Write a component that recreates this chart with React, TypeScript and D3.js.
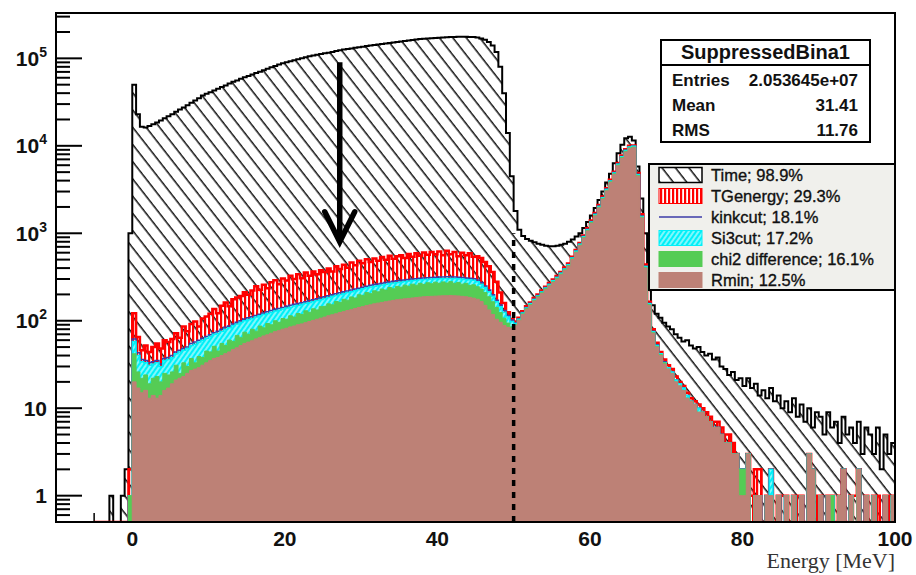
import React, { useEffect, useRef } from "react";
import * as d3 from "d3";

// Histogram binning (MeV): bins of 0.5 MeV starting at -5
const binStart = -5;
const binWidth = 0.5;

// Time; 98.9%
const timeCounts = [
  0, 0, 0, 0, 1, 0, 0, 1, 2, 1000,
  50000, 23000, 16500, 16200, 16800, 17600, 18500, 19500, 20600, 21800,
  23000, 24500, 26000, 27500, 29000, 31000, 33000, 35000, 37500, 39500,
  41000, 43000, 45000, 47000, 49000, 51500, 54000, 56000, 58500, 61000,
  63000, 65500, 68000, 70500, 73000, 76000, 79000, 82000, 85000, 88000,
  90000, 92500, 95000, 97500, 100000, 103000, 106000, 108000, 110000, 112000,
  114000, 116000, 118500, 121000, 123500, 126000, 128000, 130000, 132000, 134000,
  136000, 138000, 140000, 142000, 144000, 146000, 148000, 150000, 152000, 154000,
  156000, 158000, 160000, 162000, 164000, 166000, 168000, 169000, 170000, 171000,
  172000, 173000, 174000, 175000, 176000, 177000, 177000, 177000, 176000, 175000,
  173000, 169000, 163000, 154000, 140000, 118000, 80000, 40000, 14000, 4500,
  1800, 1100, 930, 860, 820, 790, 760, 740, 720, 710,
  710, 720, 740, 760, 800, 850, 920, 1000, 1150, 1350,
  1600, 1950, 2400, 3000, 3800, 4800, 6300, 8200, 10300, 12200,
  12700, 11500, 5800, 2500, 1000, 350, 150, 120, 108, 95,
  86, 80, 70, 64, 58, 60, 52, 48, 50, 44,
  40, 42, 36, 38, 30, 28, 24, 26, 21, 22,
  18, 22, 17, 19, 14, 16, 13, 17, 12, 14,
  10, 12, 9, 13, 8, 11, 7, 10, 6, 9,
  8, 5, 9, 6, 7, 4, 8, 5, 6, 4,
  7, 3, 6, 5, 3, 6, 2, 5, 3, 4,
];

// TGenergy; 29.3%
const tgEnergyCounts = [
  0, 0, 0, 0, 0, 0, 0, 0, 0, 2,
  122, 65, 46, 52, 44, 50, 55, 48, 60, 57,
  62, 72, 64, 86, 76, 92, 98, 86, 106, 112,
  120, 136, 122, 148, 162, 146, 176, 184, 192, 212,
  198, 222, 248, 226, 258, 236, 275, 290, 262, 305,
  288, 326, 300, 340, 306, 356, 326, 366, 340, 378,
  360, 396, 366, 420, 390, 436, 404, 462, 432, 486,
  454, 506, 468, 516, 484, 536, 498, 552, 512, 548,
  560, 522, 578, 540, 592, 552, 602, 568, 610, 574,
  620, 560, 630, 575, 610, 545, 600, 560, 590, 540,
  545, 520, 470, 420, 360, 280, 210, 160, 125, 105,
  98, 108, 128, 146, 162, 182, 200, 222, 245, 270,
  296, 324, 360, 405, 452, 538, 645, 775, 945, 1140,
  1400, 1700, 2100, 2640, 3280, 4090, 5060, 6350, 7750, 9150,
  10000, 10100, 4900, 1650, 440, 165, 80, 56, 44, 36,
  31, 28, 23, 20, 18, 15, 13, 12, 11, 10,
  9, 8, 7, 7, 6, 5, 5, 4, 3, 2,
  2, 3, 1, 2, 2, 0, 1, 2, 0, 1,
  1, 1, 0, 1, 1, 1, 0, 3, 2, 1,
  1, 0, 1, 1, 0, 1, 2, 0, 1, 1,
  2, 0, 1, 0, 1, 1, 0, 1, 1, 1,
];

// kinkcut; 18.1%
const kinkcutCounts = [
  0, 0, 0, 0, 0, 0, 0, 0, 0, 1,
  62, 43, 36, 35, 33, 34, 35, 32, 37, 38,
  40, 44, 46, 48, 50, 55, 57, 60, 63, 66,
  69, 73, 76, 80, 84, 87, 92, 96, 100, 105,
  108, 111, 115, 119, 123, 127, 131, 135, 138, 142,
  146, 150, 154, 157, 161, 165, 170, 174, 178, 183,
  188, 193, 198, 204, 209, 214, 219, 225, 230, 236,
  242, 248, 254, 259, 263, 268, 273, 277, 282, 286,
  290, 293, 297, 300, 303, 306, 308, 311, 313, 315,
  316, 317, 318, 318, 317, 315, 312, 309, 306, 302,
  292, 273, 250, 224, 198, 172, 151, 131, 115, 102,
  94, 105, 124, 142, 158, 176, 194, 215, 240, 263,
  289, 315, 352, 394, 441, 525, 630, 756, 924, 1110,
  1365, 1660, 2050, 2570, 3200, 3990, 4940, 6200, 7560, 8930,
  9770, 9980, 4730, 1580, 420, 158, 76, 53, 42, 34,
  29, 26, 21, 19, 17, 14, 12, 11, 10, 9,
  8, 7, 6, 6, 5, 4, 4, 3, 3, 2,
  2, 3, 0, 1, 1, 0, 1, 2, 0, 1,
  0, 1, 0, 1, 0, 1, 0, 3, 2, 0,
  1, 0, 1, 1, 0, 1, 2, 0, 1, 0,
  2, 0, 1, 0, 1, 0, 0, 1, 0, 1,
];

// Si3cut; 17.2%
const si3cutCounts = [
  0, 0, 0, 0, 0, 0, 0, 0, 0, 1,
  58, 40, 34, 33, 31, 32, 33, 30, 35, 36,
  38, 42, 44, 46, 48, 52, 54, 57, 60, 63,
  66, 70, 72, 76, 80, 83, 88, 92, 96, 100,
  103, 106, 110, 114, 118, 121, 125, 129, 132, 136,
  140, 143, 147, 150, 154, 158, 162, 166, 170, 175,
  180, 185, 190, 195, 200, 205, 210, 215, 220, 226,
  232, 238, 243, 248, 252, 257, 262, 266, 270, 274,
  278, 281, 285, 288, 291, 294, 296, 298, 300, 302,
  303, 304, 305, 305, 304, 302, 300, 297, 294, 290,
  280, 262, 240, 215, 190, 165, 145, 125, 110, 98,
  93, 104, 123, 140, 156, 175, 192, 213, 237, 260,
  286, 312, 348, 390, 437, 520, 624, 749, 915, 1100,
  1350, 1640, 2030, 2550, 3170, 3950, 4890, 6140, 7490, 8840,
  9670, 9880, 4680, 1560, 416, 156, 75, 52, 42, 33,
  29, 26, 21, 19, 17, 14, 12, 11, 10, 9,
  8, 7, 6, 6, 5, 4, 4, 3, 3, 2,
  2, 3, 0, 1, 1, 0, 1, 2, 0, 1,
  0, 1, 0, 1, 0, 1, 0, 3, 2, 0,
  1, 0, 1, 1, 0, 1, 2, 0, 1, 0,
  2, 0, 1, 0, 1, 0, 0, 1, 0, 1,
];

// chi2 difference; 16.1%
const chi2Counts = [
  0, 0, 0, 0, 0, 0, 0, 0, 0, 1,
  42, 26, 22, 24, 19, 22, 23, 20, 25, 24,
  26, 31, 25, 33, 30, 37, 33, 39, 38, 45,
  44, 51, 45, 55, 52, 60, 58, 68, 64, 74,
  70, 80, 76, 87, 83, 93, 90, 100, 96, 106,
  104, 114, 110, 121, 118, 130, 125, 137, 133, 145,
  146, 156, 152, 166, 162, 176, 172, 187, 182, 198,
  195, 210, 204, 220, 214, 230, 224, 240, 232, 247,
  242, 255, 248, 262, 255, 268, 260, 272, 265, 276,
  268, 278, 270, 280, 268, 274, 262, 268, 254, 258,
  245, 230, 210, 188, 165, 142, 124, 107, 94, 85,
  90, 102, 120, 138, 153, 171, 189, 209, 233, 255,
  280, 306, 342, 383, 428, 510, 612, 734, 898, 1080,
  1330, 1610, 1990, 2500, 3110, 3880, 4790, 6020, 7340, 8670,
  9490, 9690, 4590, 1530, 408, 153, 73, 51, 41, 33,
  28, 25, 20, 18, 16, 13, 12, 11, 9, 9,
  8, 7, 6, 6, 5, 4, 4, 3, 3, 2,
  2, 3, 0, 1, 1, 0, 1, 1, 0, 1,
  0, 1, 0, 1, 0, 1, 0, 3, 2, 0,
  1, 0, 1, 1, 0, 1, 2, 0, 1, 0,
  2, 0, 1, 0, 1, 0, 0, 1, 0, 1,
];

// Rmin; 12.5%
const rminCounts = [
  0, 0, 0, 0, 0, 0, 0, 0, 0, 0,
  20, 17, 15, 16, 13, 14, 13, 14, 16, 17,
  19, 21, 22, 23, 25, 27, 28, 29, 31, 33,
  35, 37, 38, 40, 42, 44, 47, 49, 52, 55,
  57, 59, 62, 64, 67, 69, 72, 75, 77, 80,
  82, 85, 87, 90, 92, 95, 98, 101, 104, 107,
  110, 114, 117, 120, 124, 127, 131, 134, 138, 142,
  145, 149, 152, 156, 159, 162, 165, 168, 171, 174,
  176, 178, 180, 182, 184, 186, 188, 189, 190, 191,
  192, 193, 193, 194, 193, 192, 190, 188, 185, 181,
  176, 166, 150, 133, 118, 104, 96, 88, 84, 82,
  88, 100, 118, 135, 150, 168, 185, 205, 228, 250,
  275, 300, 335, 375, 420, 500, 600, 720, 880, 1060,
  1300, 1580, 1950, 2450, 3050, 3800, 4700, 5900, 7200, 8500,
  9300, 9500, 4500, 1500, 400, 150, 72, 50, 40, 32,
  28, 25, 20, 18, 16, 13, 12, 11, 9, 9,
  8, 7, 6, 6, 5, 4, 4, 3, 3, 1,
  1, 3, 0, 1, 1, 0, 1, 1, 0, 1,
  0, 1, 0, 1, 0, 1, 0, 3, 2, 0,
  1, 0, 1, 0, 0, 1, 2, 0, 1, 0,
  2, 0, 1, 0, 1, 0, 0, 1, 0, 1,
];

const legendLabels = [
  "Time; 98.9%",
  "TGenergy; 29.3%",
  "kinkcut; 18.1%",
  "Si3cut; 17.2%",
  "chi2 difference; 16.1%",
  "Rmin; 12.5%",
];

const statsTitle = "SuppressedBina1";
const statsRows = [
  ["Entries", "2.053645e+07"],
  ["Mean", "31.41"],
  ["RMS", "11.76"],
];

const xTickValues = [0, 20, 40, 60, 80, 100];
const cutEnergy = 50; // dashed line (MeV)
const cutTop = 1000;
const arrowEnergy = 27.2;
const arrowFrom = 9e4;
const arrowTo = 800;

const W = 916;
const H = 575;
const frame = { left: 56, right: 895, top: 13, bottom: 522 };
const sans = "'Liberation Sans', Arial, Helvetica, sans-serif";

const RED = "#ff0000";
const BLUE = "#3c3ca8";
const CYAN = "#00f0f8";
const GREEN = "#55cc55";
const BROWN = "#bd8176";

export default function App() {
  const svgRef = useRef<SVGSVGElement>(null);

  useEffect(() => {
    document.body.style.margin = "0";
    if (!svgRef.current) return;
    const svg = d3.select(svgRef.current);
    svg.selectAll("*").remove();

    const x = d3.scaleLinear().domain([-10, 100]).range([frame.left, frame.right]);
    const y = d3.scaleLog().domain([0.5, 3.3e5]).range([frame.bottom, frame.top]);
    const base = frame.bottom;

    const defs = svg.append("defs");
    defs.append("clipPath").attr("id", "frameClip")
      .append("rect")
      .attr("x", frame.left).attr("y", frame.top)
      .attr("width", frame.right - frame.left).attr("height", frame.bottom - frame.top);

    // hatch "\\\" for Time
    const tp = defs.append("pattern").attr("id", "timeHatch")
      .attr("patternUnits", "userSpaceOnUse")
      .attr("width", 10.6).attr("height", 10)
      .attr("patternTransform", "rotate(-38)");
    tp.append("line").attr("x1", 5).attr("x2", 5).attr("y1", -1).attr("y2", 11)
      .attr("stroke", "#000").attr("stroke-width", 1.4);

    // vertical red lines for TGenergy
    const rp = defs.append("pattern").attr("id", "redHatch")
      .attr("patternUnits", "userSpaceOnUse")
      .attr("width", 4).attr("height", 10);
    rp.append("rect").attr("x", 0).attr("y", 0).attr("width", 2.2).attr("height", 10).attr("fill", RED);

    // cyan with fine white diagonal lines for Si3cut
    const cp = defs.append("pattern").attr("id", "cyanHatch")
      .attr("patternUnits", "userSpaceOnUse")
      .attr("width", 4).attr("height", 10)
      .attr("patternTransform", "rotate(35)");
    cp.append("rect").attr("width", 4).attr("height", 10).attr("fill", CYAN);
    cp.append("line").attr("x1", 1).attr("x2", 1).attr("y1", -1).attr("y2", 11)
      .attr("stroke", "#fff").attr("stroke-width", 1);

    svg.append("rect").attr("width", W).attr("height", H).attr("fill", "#fff");

    // ---- axis ticks (drawn first, histograms cover them like ROOT "same")
    const axisG = svg.append("g").attr("stroke", "#000");
    for (let v = -10; v <= 100; v += 5) {
      const major = v % 20 === 0;
      axisG.append("line")
        .attr("x1", x(v)).attr("x2", x(v))
        .attr("y1", base).attr("y2", base - (major ? 18 : 9))
        .attr("stroke-width", 1.5);
    }
    const yTicks: { v: number; major: boolean }[] = [];
    for (let d = -1; d <= 5; d++) {
      for (let m = 1; m <= 9; m++) {
        const v = m * Math.pow(10, d);
        if (v < 0.5 || v > 3.3e5) continue;
        yTicks.push({ v, major: m === 1 });
      }
    }
    yTicks.forEach((t) => {
      axisG.append("line")
        .attr("x1", frame.left).attr("x2", frame.left + (t.major ? 26 : 14))
        .attr("y1", y(t.v)).attr("y2", y(t.v))
        .attr("stroke-width", 2);
    });

    // ---- histograms
    const stepPoints = (counts: number[]): [number, number][] => {
      const pts: [number, number][] = [[x(binStart), base]];
      counts.forEach((c, i) => {
        const lo = binStart + i * binWidth;
        const yy = c > 0 ? y(c) : base;
        pts.push([x(lo), yy], [x(lo + binWidth), yy]);
      });
      pts.push([x(binStart + counts.length * binWidth), base]);
      return pts;
    };
    const line = d3.line();

    const histG = svg.append("g").attr("clip-path", "url(#frameClip)");
    const series = [
      { counts: timeCounts, fill: "url(#timeHatch)", stroke: "#000", sw: 2 },
      { counts: tgEnergyCounts, fill: "url(#redHatch)", stroke: RED, sw: 2.5 },
      { counts: kinkcutCounts, fill: "none", stroke: BLUE, sw: 1.5 },
      { counts: si3cutCounts, fill: "url(#cyanHatch)", stroke: CYAN, sw: 1.5 },
      { counts: chi2Counts, fill: GREEN, stroke: GREEN, sw: 1 },
      { counts: rminCounts, fill: BROWN, stroke: BROWN, sw: 1 },
    ];
    series.forEach((s) => {
      const pts = stepPoints(s.counts);
      if (s.fill !== "none") {
        histG.append("path").attr("d", line(pts) + "Z").attr("fill", s.fill).attr("stroke", "none");
      }
      histG.append("path").attr("d", line(pts))
        .attr("fill", "none").attr("stroke", s.stroke).attr("stroke-width", s.sw)
        .attr("stroke-linejoin", "miter");
    });

    // ---- dashed line at 50 MeV
    svg.append("line")
      .attr("x1", x(cutEnergy)).attr("x2", x(cutEnergy))
      .attr("y1", y(0.5)).attr("y2", y(cutTop))
      .attr("stroke", "#000").attr("stroke-width", 3.5)
      .attr("stroke-dasharray", "6,6");

    // ---- arrow
    const ax = x(arrowEnergy);
    const aTop = y(arrowFrom);
    const aTip = y(arrowTo);
    svg.append("line").attr("x1", ax).attr("x2", ax).attr("y1", aTop).attr("y2", aTip - 3)
      .attr("stroke", "#000").attr("stroke-width", 5.5);
    svg.append("path")
      .attr("d", `M${ax - 15},${aTip - 30}L${ax},${aTip}L${ax + 15},${aTip - 30}`)
      .attr("fill", "none").attr("stroke", "#000").attr("stroke-width", 5.5)
      .attr("stroke-linecap", "round").attr("stroke-linejoin", "miter");

    // ---- frame
    svg.append("rect")
      .attr("x", frame.left).attr("y", frame.top)
      .attr("width", frame.right - frame.left).attr("height", frame.bottom - frame.top)
      .attr("fill", "none").attr("stroke", "#000").attr("stroke-width", 2);

    // ---- tick labels
    xTickValues.forEach((v) => {
      svg.append("text")
        .attr("x", x(v)).attr("y", 546)
        .attr("text-anchor", "middle")
        .attr("font-family", sans).attr("font-weight", "bold").attr("font-size", 21)
        .attr("fill", "#111")
        .text(String(v));
    });
    for (let d = 0; d <= 5; d++) {
      const t = svg.append("text")
        .attr("x", 47).attr("y", y(Math.pow(10, d)) + 7.5)
        .attr("text-anchor", "end")
        .attr("font-family", sans).attr("font-weight", "bold").attr("font-size", 21)
        .attr("fill", "#111");
      if (d === 0) t.text("1");
      else if (d === 1) t.text("10");
      else {
        t.append("tspan").text("10");
        t.append("tspan").attr("dy", -9).attr("font-size", 14).text(String(d));
      }
    }

    svg.append("text")
      .attr("x", 895).attr("y", 568)
      .attr("text-anchor", "end")
      .attr("font-family", "'Liberation Serif', 'Times New Roman', serif")
      .attr("font-size", 22).attr("fill", "#333")
      .text("Energy [MeV]");

    // ---- stats box
    const sb = { x0: 661, x1: 870, y0: 40, y1: 142, sep: 65 };
    svg.append("rect")
      .attr("x", sb.x0).attr("y", sb.y0).attr("width", sb.x1 - sb.x0).attr("height", sb.y1 - sb.y0)
      .attr("fill", "#fff").attr("stroke", "#000").attr("stroke-width", 2);
    svg.append("line").attr("x1", sb.x0).attr("x2", sb.x1).attr("y1", sb.sep).attr("y2", sb.sep)
      .attr("stroke", "#000").attr("stroke-width", 2);
    svg.append("text")
      .attr("x", (sb.x0 + sb.x1) / 2).attr("y", 59)
      .attr("text-anchor", "middle")
      .attr("font-family", sans).attr("font-weight", "bold").attr("font-size", 20)
      .attr("fill", "#111")
      .text(statsTitle);
    statsRows.forEach((r, i) => {
      const yy = 86 + i * 25;
      svg.append("text").attr("x", 672).attr("y", yy)
        .attr("font-family", sans).attr("font-weight", "bold").attr("font-size", 17)
        .attr("fill", "#111").text(r[0]);
      svg.append("text").attr("x", 858).attr("y", yy).attr("text-anchor", "end")
        .attr("font-family", sans).attr("font-weight", "bold").attr("font-size", 17)
        .attr("fill", "#111").text(r[1]);
    });

    // ---- legend
    const lg = { x0: 649, x1: 895, y0: 164, y1: 290 };
    svg.append("rect")
      .attr("x", lg.x0).attr("y", lg.y0).attr("width", lg.x1 - lg.x0).attr("height", lg.y1 - lg.y0)
      .attr("fill", "#f0f0ec").attr("stroke", "#000").attr("stroke-width", 2);
    const sampleFills = ["url(#timeHatch)", "url(#redHatch)", "none", "url(#cyanHatch)", GREEN, BROWN];
    const sampleStrokes = ["#000", RED, BLUE, CYAN, GREEN, BROWN];
    legendLabels.forEach((label, i) => {
      const cy = 175 + i * 21;
      if (i === 2) {
        svg.append("line").attr("x1", 659).attr("x2", 702).attr("y1", cy).attr("y2", cy)
          .attr("stroke", BLUE).attr("stroke-width", 1.5);
      } else {
        svg.append("rect").attr("x", 659).attr("y", cy - 7.5).attr("width", 43).attr("height", 15)
          .attr("fill", "#fff");
        svg.append("rect").attr("x", 659).attr("y", cy - 7.5).attr("width", 43).attr("height", 15)
          .attr("fill", sampleFills[i])
          .attr("stroke", sampleStrokes[i]).attr("stroke-width", i === 0 ? 1.5 : 1);
      }
      svg.append("text").attr("x", 711).attr("y", cy + 6)
        .attr("font-family", sans).attr("font-size", 16.5)
        .attr("fill", "#111").attr("stroke", "#111").attr("stroke-width", 0.35)
        .text(label);
    });
  }, []);

  return <svg ref={svgRef} width={W} height={H} style={{ display: "block" }} />;
}
